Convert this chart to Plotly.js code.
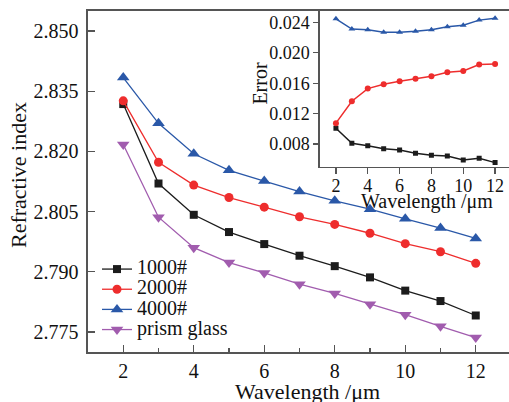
<!DOCTYPE html>
<html>
<head>
<meta charset="utf-8">
<script src="https://cdn.plot.ly/plotly-3.0.1.min.js"></script>
<style>
html, body { margin: 0; padding: 0; overflow: hidden; background: #fff; }
#chart { width: 512px; height: 402px; }
</style>
</head>
<body>
<div id="chart"></div>
<script>
// Wavelength (µm)
const wavelength = [2, 3, 4, 5, 6, 7, 8, 9, 10, 11, 12];
// Refractive index (main plot)
const n1000 = [2.8318, 2.8120, 2.8042, 2.7999, 2.7969, 2.7940, 2.7914, 2.7886, 2.7853, 2.7827, 2.7791];
const n2000 = [2.8326, 2.8173, 2.8116, 2.8085, 2.8061, 2.8037, 2.8018, 2.7996, 2.7970, 2.7950, 2.7921];
const n4000 = [2.8384, 2.8270, 2.8194, 2.8153, 2.8126, 2.8100, 2.8077, 2.8056, 2.8032, 2.8009, 2.7983];
const nPrism = [2.8217, 2.8036, 2.7960, 2.7923, 2.7897, 2.7869, 2.7846, 2.7819, 2.7793, 2.7764, 2.7736];
// Error (inset)
const err1000 = [0.01008, 0.00809, 0.00778, 0.00738, 0.00721, 0.00678, 0.00651, 0.00642, 0.00590, 0.00612, 0.00555];
const err2000 = [0.01074, 0.01363, 0.01529, 0.01587, 0.01626, 0.01657, 0.01692, 0.01745, 0.01762, 0.01845, 0.01854];
const err4000 = [0.02447, 0.02312, 0.02303, 0.02272, 0.02272, 0.02282, 0.02303, 0.02342, 0.02364, 0.02430, 0.02453];

const seriesNames = ['1000#', '2000#', '4000#', 'prism glass'];
const colors = ['#1c1c1c', '#ee2d2d', '#2a58a8', '#a15cae'];
const symbols = ['square', 'circle', 'triangle-up', 'triangle-down'];

const FONT = 'Liberation Serif, Times New Roman, serif';
const AX = '#555';

const mainVals = [n1000, n2000, n4000, nPrism];
const mainSizes = [8, 9, 11, 11];
const traces = mainVals.map((v, i) => ({
  x: wavelength, y: v, type: 'scatter', mode: 'lines+markers',
  name: '<span style="font-size:20px">' + seriesNames[i] + '</span>',
  line: {color: colors[i], width: 1.3},
  marker: {symbol: symbols[i], size: mainSizes[i], color: colors[i]},
  xaxis: 'x', yaxis: 'y'
}));

const insetVals = [err1000, err2000, err4000];
const insetSizes = [5, 6, 6];
insetVals.forEach((v, i) => traces.push({
  x: wavelength, y: v, type: 'scatter', mode: 'lines+markers',
  name: seriesNames[i], showlegend: false,
  line: {color: colors[i], width: 1.5},
  marker: {symbol: symbols[i], size: insetSizes[i], color: colors[i]},
  xaxis: 'x2', yaxis: 'y2'
}));

const layout = {
  width: 512, height: 402,
  margin: {l: 88, r: 1, t: 11, b: 50},
  paper_bgcolor: '#fff', plot_bgcolor: '#fff',
  font: {family: FONT, color: '#111'},
  showlegend: true,
  legend: {
    x: 0.0213, y: 0.2874, xanchor: 'left', yanchor: 'top',
    bgcolor: 'rgba(0,0,0,0)', borderwidth: 0,
    font: {family: FONT, size: 13.2, color: '#111'}
  },
  xaxis: {
    domain: [0, 1], range: [1, 13], anchor: 'y',
    tick0: 2, dtick: 2, ticks: 'inside', ticklen: 7, tickwidth: 1.3, tickcolor: AX,
    showline: true, linecolor: AX, linewidth: 1.6, mirror: true,
    showgrid: false, zeroline: false,
    tickfont: {family: FONT, size: 20, color: '#111'},
    minor: {ticks: 'inside', ticklen: 4, tickwidth: 1.2, tickcolor: AX, dtick: 1, tick0: 1, showgrid: false}
  },
  yaxis: {
    domain: [0, 1], range: [2.77, 2.855], anchor: 'x',
    tick0: 2.775, dtick: 0.015, tickformat: '.3f',
    ticks: 'inside', ticklen: 7, tickwidth: 1.3, tickcolor: AX,
    showline: true, linecolor: AX, linewidth: 1.6, mirror: true,
    showgrid: false, zeroline: false,
    tickfont: {family: FONT, size: 20, color: '#111'},
    ticklabelstandoff: 4
  },
  xaxis2: {
    domain: [0.5485, 1], range: [1, 13], anchor: 'y2',
    tick0: 2, dtick: 2, ticks: 'outside', ticklen: 6, tickwidth: 1.3, tickcolor: AX,
    showline: true, linecolor: AX, linewidth: 1.6,
    showgrid: false, zeroline: false,
    tickfont: {family: FONT, size: 18, color: '#111'},
    ticklabelstandoff: -4
  },
  yaxis2: {
    domain: [0.5431, 1], range: [0.005, 0.0255], anchor: 'x2',
    tick0: 0.008, dtick: 0.004, tickformat: '.3f',
    ticks: 'outside', ticklen: 5, tickwidth: 1.3, tickcolor: AX,
    showline: true, linecolor: AX, linewidth: 1.6,
    showgrid: false, zeroline: false,
    tickfont: {family: FONT, size: 18, color: '#111'}
  },
  annotations: [
    {text: 'Refractive index', xref: 'paper', yref: 'paper', x: -0.1655, y: 0.519,
     xanchor: 'center', yanchor: 'middle', textangle: -90, showarrow: false,
     font: {family: FONT, size: 22, color: '#111'}},
    {text: 'Wavelength /μm', xref: 'paper', yref: 'paper', x: 0.519, y: -0.1172,
     xanchor: 'center', yanchor: 'middle', showarrow: false,
     font: {family: FONT, size: 22, color: '#111'}},
    {text: 'Wavelength /μm', xref: 'paper', yref: 'paper', x: 0.8014, y: 0.4400,
     xanchor: 'center', yanchor: 'middle', showarrow: false,
     font: {family: FONT, size: 20, color: '#111'}},
    {text: 'Error', xref: 'paper', yref: 'paper', x: 0.4066, y: 0.790,
     xanchor: 'center', yanchor: 'middle', textangle: -90, showarrow: false,
     font: {family: FONT, size: 20, color: '#111'}}
  ]
};

Plotly.newPlot('chart', traces, layout, {displayModeBar: false, staticPlot: true});
</script>
</body>
</html>
